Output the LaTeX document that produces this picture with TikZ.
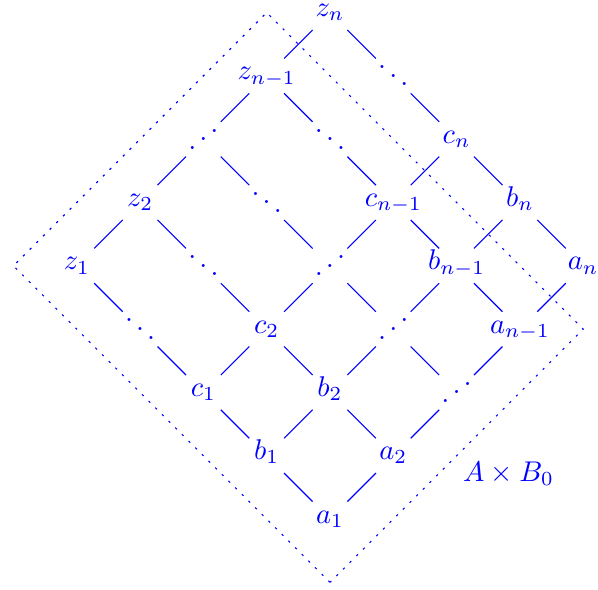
\documentclass[tikz,border=0pt]{standalone}
\usepackage{amsmath,amssymb}
\usepackage{graphicx}
\usepackage{tikz}
\usetikzlibrary{positioning}
\newcommand{\dndots}{\raisebox{-3.1pt}{$\ddots$}}
\newcommand{\updots}{\raisebox{-3.1pt}{\reflectbox{$\ddots$}}}

\begin{document}
\begin{tikzpicture}[x=0.78cm, y=0.78cm, blue,
    cell/.style={text height=4.3pt, text depth=1.5pt, inner sep=3.2pt, outer sep=0pt}]
    \useasboundingbox (-5.213,-1.106) rectangle (4.234,8.199);

    % Row a
    \node[cell] (a1) at (0,0) {$a_1$};
    \node[cell] (a2) at (1,1) {$a_2$};
    \node[cell] (a3) at (2,2) {\updots};
    \node[cell] (a4) at (3,3) {$a_{n-1}$};
    \node[cell] (a5) at (4,4) {$a_n$};

    % Row b
    \node[cell] (b1) at (-1,1) {$b_1$};
    \node[cell] (b2) at (0,2) {$b_2$};
    \node[cell] (b3) at (1,3) {\updots};
    \node[cell] (b4) at (2,4) {$b_{n-1}$};
    \node[cell] (b5) at (3,5) {$b_n$};

    % Row c
    \node[cell] (c1) at (-2,2) {$c_1$};
    \node[cell] (c2) at (-1,3) {$c_2$};
    \node[cell] (c3) at (0,4) {\updots};
    \node[cell] (c4) at (1,5) {$c_{n-1}$};
    \node[cell] (c5) at (2,6) {$c_n$};

    % Dots row
    \node[cell] (d1) at (-3,3) {\dndots};
    \node[cell] (d2) at (-2,4) {\dndots};
    \node[cell] (d3) at (-1,5) {\dndots};
    \node[cell] (d4) at (0,6) {\dndots};
    \node[cell] (d5) at (1,7) {\dndots};

    % Row z
    \node[cell] (z1) at (-4,4) {$z_1$};
    \node[cell] (z2) at (-3,5) {$z_2$};
    \node[cell] (z3) at (-2,6) {\updots};
    \node[cell] (z4) at (-1,7) {$z_{n-1}$};
    \node[cell] (z5) at (0,8) {$z_n$};

    % Lattice edges (none along the dots row)
    \foreach \r in {a,b,c,z}
        \foreach \i/\j in {1/2,2/3,3/4,4/5}
            \draw (\r\i) -- (\r\j);
    \foreach \i in {1,...,5}
        \foreach \r/\s in {a/b,b/c,c/d,d/z}
            \draw (\r\i) -- (\s\i);

    % Region A x B_0
    \draw[dash pattern=on 0.8pt off 2.5pt] (0,-1) -- (-5,4) -- (-1,8) -- (4,3) -- cycle;
    \node (AB) at (2.82,0.72) {$A\times B_0$};
\end{tikzpicture}
\end{document}
